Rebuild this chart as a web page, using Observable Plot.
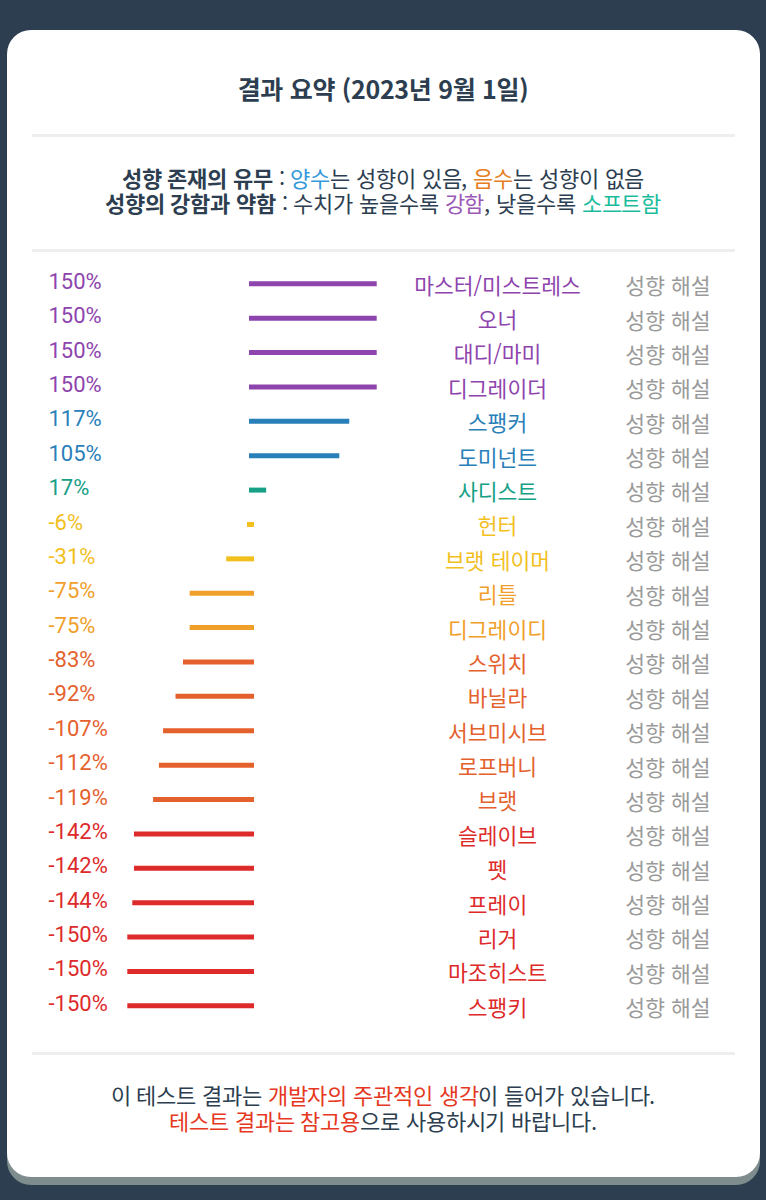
<!DOCTYPE html>
<html lang="ko">
<head>
<meta charset="utf-8">
<script src="https://cdn.jsdelivr.net/npm/d3@7"></script>
<script src="https://cdn.jsdelivr.net/npm/@observablehq/plot@0.6"></script>
<style>
  /* Tighter line metrics for the two-line notes, same glyphs and baseline */
  @font-face { font-family: "KR Tight"; font-weight: 400;
    src: local("Noto Sans CJK KR Regular"), local("NotoSansCJKkr-Regular"), local("Noto Sans CJK KR");
    ascent-override: 100%; descent-override: 13%; line-gap-override: 0%; }
  @font-face { font-family: "KR Tight"; font-weight: 700;
    src: local("Noto Sans CJK KR Bold"), local("NotoSansCJKkr-Bold");
    ascent-override: 100%; descent-override: 13%; line-gap-override: 0%; }
  html, body { margin: 0; padding: 0; background: #2c3e50; }
  body { width: 766px; height: 1200px; position: relative; overflow: hidden;
         font-family: "Noto Sans CJK KR", "Noto Sans", sans-serif; color: #2c3e50; }
  .card { position: absolute; left: 7px; top: 30px; width: 753px; height: 1147px;
          background: #fff; border-radius: 24px; box-shadow: 0 8px 0 #7f8c8d; }
  .abs { position: absolute; left: 0; width: 766px; text-align: center; }
  .line { display: block; white-space: nowrap; }
  .line span { display: inline-block; }
  .title { top: 70px; line-height: 36px; font-size: 25px; font-weight: 700; letter-spacing: -0.3px; }
  .rule { position: absolute; left: 32px; width: 703px; height: 3px; background: #eeeeee; }
  .legend, .footer { font-family: "KR Tight", "Noto Sans CJK KR", sans-serif; }
  .legend { top: 165px; font-size: 22px; letter-spacing: -0.1px; }
  .legend .line, .legend span { line-height: 25px; height: 25px; }
  .footer { top: 1082px; font-size: 22px; letter-spacing: -0.1px; }
  .footer .line, .footer span { line-height: 26px; height: 26px; }
  b { font-weight: 700; }
  .red { color: #e5381f; }
  #chart { position: absolute; left: 0; top: 262px; }
  #chart svg { display: block; overflow: visible; }
</style>
</head>
<body>
<div class="card"></div>
<div class="abs title"><span class="line">결과 요약 (2023년 9월 1일)</span></div>
<div class="rule" style="top:134px"></div>
<div class="abs legend">
  <div class="line"><span><b>성향 존재의 유무</b>&nbsp;:&nbsp;</span><span style="color:#3498db">양수</span><span>는 성향이 있음,&nbsp;</span><span style="color:#e67e22">음수</span><span>는 성향이 없음</span></div>
  <div class="line"><span><b>성향의 강함과 약함</b>&nbsp;:&nbsp;수치가 높을수록&nbsp;</span><span style="color:#9b59b6">강함</span><span>, 낮을수록&nbsp;</span><span style="color:#1abc9c">소프트함</span></div>
</div>
<div class="rule" style="top:249px"></div>
<div id="chart"></div>
<div class="rule" style="top:1052px"></div>
<div class="abs footer">
  <div class="line"><span>이 테스트 결과는&nbsp;</span><span class="red">개발자의 주관적인 생각</span><span>이 들어가 있습니다.</span></div>
  <div class="line"><span class="red">테스트 결과는 참고용</span><span>으로 사용하시기 바랍니다.</span></div>
</div>
<script>
// Tendency names, top to bottom
const names = [
  "마스터/미스트레스", "오너", "대디/마미", "디그레이더", "스팽커", "도미넌트",
  "사디스트", "헌터", "브랫 테이머", "리틀", "디그레이디", "스위치", "바닐라",
  "서브미시브", "로프버니", "브랫", "슬레이브", "펫", "프레이", "리거",
  "마조히스트", "스팽키"
];
// Score for each tendency (%)
const values = [
  150, 150, 150, 150, 117, 105, 17, -6, -31, -75, -75, -83, -92,
  -107, -112, -119, -142, -142, -144, -150, -150, -150
];
// Link text shown on each row
const detailLabel = "성향 해설";

const data = names.map((name, i) => ({name, value: values[i]}));

const chart = Plot.plot({
  width: 766,
  height: 770,
  marginLeft: 48,
  marginRight: 56,
  marginTop: 0,
  marginBottom: 0,
  style: {background: "transparent"},
  x: {domain: [-150, 150], range: [127.3, 376.7], axis: null},
  y: {type: "point", domain: names, range: [21.3, 743.3], padding: 0, round: false, axis: null},
  color: {
    type: "threshold",
    domain: [-120, -80, -50, 0, 50, 120],
    range: ["#dd2a2a", "#e4612d", "#f0a02a", "#f2c01d", "#16a085", "#2980b9", "#8e44ad"]
  },
  marks: [
    // bars grow from a shared zero line, each starting a little past it
    Plot.ruleY(data.filter(d => d.value > 0), {
      y: "name", x1: 0, x2: "value", stroke: "value", strokeWidth: 5, insetLeft: -3
    }),
    Plot.ruleY(data.filter(d => d.value < 0), {
      y: "name", x1: "value", x2: 0, stroke: "value", strokeWidth: 5, insetRight: -2
    }),
    Plot.text(data, {
      y: "name", text: d => `${d.value}%`, fill: "value",
      frameAnchor: "left", textAnchor: "start", dy: -2,
      fontSize: 22, fontFamily: "Roboto, sans-serif"
    }),
    Plot.text(data, {
      y: "name", text: "name", fill: "value",
      frameAnchor: "right", textAnchor: "middle", dx: -213, dy: 3,
      fontSize: 21.5, fontFamily: "'Noto Sans CJK KR', sans-serif"
    }),
    Plot.text(data, {
      y: "name", text: () => detailLabel, fill: "#9a9a9a",
      frameAnchor: "right", textAnchor: "end", dy: 3.5,
      fontSize: 21.5, fontFamily: "'Noto Sans CJK KR', sans-serif"
    })
  ]
});
document.getElementById("chart").appendChild(chart);
</script>
</body>
</html>
